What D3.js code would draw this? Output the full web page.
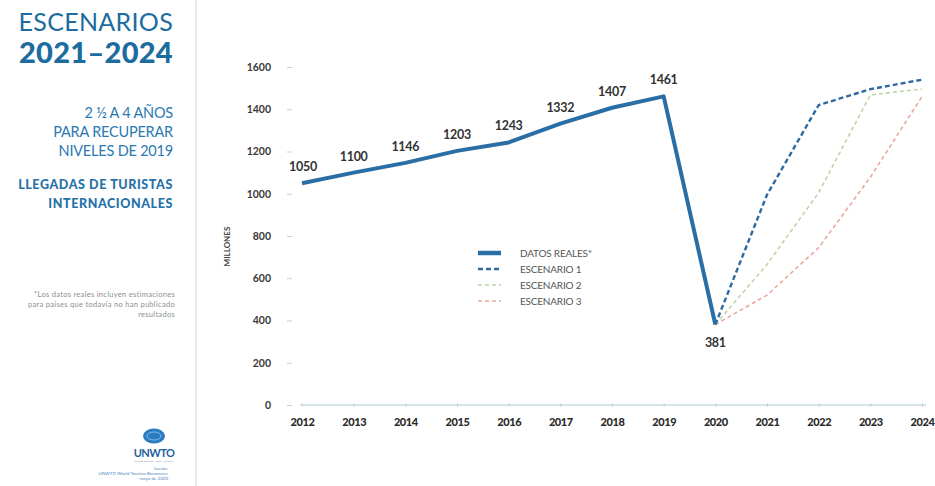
<!DOCTYPE html>
<html>
<head>
<meta charset="utf-8">
<script src="https://cdn.jsdelivr.net/npm/d3@7"></script>
<style>
  html, body { margin: 0; padding: 0; background: #fff; }
  svg { display: block; font-family: Lato, "Open Sans", sans-serif; }
</style>
</head>
<body>
<svg id="chart" width="935" height="486"></svg>
<script>
// ─── Data ────────────────────────────────────────────────────────────────────

const years      = [2012, 2013, 2014, 2015, 2016, 2017, 2018, 2019, 2020, 2021, 2022, 2023, 2024];
const realYears  = [2012, 2013, 2014, 2015, 2016, 2017, 2018, 2019, 2020];
const realValues = [1050, 1100, 1146, 1203, 1243, 1332, 1407, 1461, 381];

const scenYears  = [2020, 2021, 2022, 2023, 2024];
const scenario1  = [381, 995, 1420, 1495, 1540];
const scenario2  = [381, 665, 1005, 1468, 1496];
const scenario3  = [381, 520, 745, 1078, 1460];

const yTicks     = [0, 200, 400, 600, 800, 1000, 1200, 1400, 1600];

const legendLabels = ['DATOS REALES*', 'ESCENARIO 1', 'ESCENARIO 2', 'ESCENARIO 3'];

// ─── Styles ──────────────────────────────────────────────────────────────────

const BLUE  = '#2a6ea6';
const TITLE = '#1c6c9f';
const series = [
  { name: legendLabels[0], x: realYears, y: realValues, color: BLUE,      width: 4,   dash: null },
  { name: legendLabels[1], x: scenYears, y: scenario1,  color: '#2f69a0', width: 2.4, dash: '5,3' },
  { name: legendLabels[2], x: scenYears, y: scenario2,  color: '#bcd6a8', width: 1.6, dash: '4,3' },
  { name: legendLabels[3], x: scenYears, y: scenario3,  color: '#e9a79d', width: 1.6, dash: '4,3' },
];

const svg = d3.select('#chart');

// ─── Left panel ──────────────────────────────────────────────────────────────

svg.append('line')
  .attr('x1', 196).attr('x2', 196).attr('y1', 0).attr('y2', 486)
  .attr('stroke', '#e3ecef').attr('stroke-width', 2);

const panel = svg.append('g').attr('text-anchor', 'end');

panel.append('text').attr('x', 173).attr('y', 31)
  .attr('font-size', 25).attr('font-weight', 400).attr('fill', TITLE)
  .attr('letter-spacing', 0.3)
  .text('ESCENARIOS');
panel.append('text').attr('x', 173).attr('y', 63)
  .attr('font-size', 29).attr('font-weight', 900).attr('fill', TITLE)
  .attr('letter-spacing', 0.3)
  .text('2021–2024');

[['2 ½ A 4 AÑOS', 118], ['PARA RECUPERAR', 137], ['NIVELES DE 2019', 156]].forEach(([t, y]) => {
  panel.append('text').attr('x', 173).attr('y', y)
    .attr('font-size', 14.5).attr('fill', '#2b79b0').attr('letter-spacing', -0.2)
    .text(t);
});

[['LLEGADAS DE TURISTAS', 189], ['INTERNACIONALES', 208]].forEach(([t, y]) => {
  panel.append('text').attr('x', 173).attr('y', y)
    .attr('font-size', 12.5).attr('font-weight', 900).attr('fill', '#2471a8')
    .attr('letter-spacing', 0.6)
    .text(t);
});

[['*Los datos reales incluyen estimaciones', 297], ['para países que todavía no han publicado', 307], ['resultados', 317]].forEach(([t, y]) => {
  panel.append('text').attr('x', 175).attr('y', y)
    .attr('font-size', 7.5).attr('fill', '#8a8f93').attr('letter-spacing', 0.3)
    .text(t);
});

// UNWTO logo
const logo = svg.append('g').attr('transform', 'translate(154,436)');
logo.append('ellipse').attr('rx', 11).attr('ry', 7.5).attr('fill', '#2a7cc2');
logo.append('ellipse').attr('rx', 7).attr('ry', 4).attr('fill', 'none')
  .attr('stroke', '#9cc8ec').attr('stroke-width', 0.8);
logo.append('text').attr('y', 21).attr('text-anchor', 'middle')
  .attr('font-size', 11).attr('font-weight', 700).attr('fill', '#1e5fa0')
  .attr('letter-spacing', -0.6).text('UNWTO');
logo.append('text').attr('y', 26).attr('text-anchor', 'middle')
  .attr('font-size', 2.5).attr('fill', '#7a8fa5').text('WORLD TOURISM ORGANIZATION');
[['fuente:', 470], ['UNWTO World Tourism Barometer', 475], ['mayo de 2020', 480]].forEach(([t, y]) => {
  svg.append('text').attr('x', 168).attr('y', y).attr('text-anchor', 'end')
    .attr('font-size', 4.5).attr('fill', '#4f86c0').text(t);
});

// ─── Scales & axes ───────────────────────────────────────────────────────────

const x = d3.scalePoint().domain(years).range([302, 922]);
const y = d3.scaleLinear().domain([0, 1600]).range([405, 67]);

const yAxis = svg.append('g').attr('transform', 'translate(292,0)')
  .call(d3.axisLeft(y).tickValues(yTicks).tickFormat(d3.format('d')).tickSize(5).tickPadding(16));
yAxis.select('.domain').remove();
yAxis.selectAll('line').attr('stroke', '#c9cfd2');
yAxis.selectAll('text')
  .attr('font-family', 'Lato, sans-serif').attr('font-size', 10.5).attr('font-weight', 700)
  .attr('fill', '#3a3a3a');

const xAxis = svg.append('g').attr('transform', `translate(0,${y(0)})`)
  .call(d3.axisBottom(x).tickValues(years).tickSize(3).tickSizeOuter(0).tickPadding(10));
xAxis.select('.domain').attr('stroke', '#c7dde3').attr('stroke-width', 1.5)
  .attr('d', `M${x(2012) - 2},0H${x(2024) + 4}`);
xAxis.selectAll('.tick line').attr('stroke', '#b9c9cc').attr('transform', 'translate(0,-1.5)');
xAxis.selectAll('text')
  .attr('font-family', 'Lato, sans-serif').attr('font-size', 11).attr('font-weight', 900)
  .attr('fill', '#2a2a2a').attr('letter-spacing', -0.4);

svg.append('text')
  .attr('transform', `translate(230,${y(750)}) rotate(-90)`)
  .attr('text-anchor', 'middle')
  .attr('font-size', 8).attr('font-weight', 700).attr('fill', '#444')
  .text('MILLONES');

// ─── Lines ───────────────────────────────────────────────────────────────────

const line = d3.line().x(d => x(d[0])).y(d => y(d[1]));

series.slice().reverse().forEach(s => {
  svg.append('path')
    .datum(d3.zip(s.x, s.y))
    .attr('d', line)
    .attr('fill', 'none')
    .attr('stroke', s.color)
    .attr('stroke-width', s.width)
    .attr('stroke-linejoin', 'round')
    .attr('stroke-dasharray', s.dash);
});

// Data labels on real values
svg.append('g').selectAll('text')
  .data(d3.zip(realYears, realValues))
  .join('text')
  .attr('x', d => x(d[0]) + (d[0] === 2012 ? 1 : 0))
  .attr('y', d => d[0] === 2020 ? y(d[1]) + 22 : y(d[1]) - 12)
  .attr('text-anchor', 'middle')
  .attr('font-size', 12.5).attr('font-weight', 700).attr('fill', '#333')
  .attr('letter-spacing', -0.3)
  .text(d => d[1]);

// ─── Legend ──────────────────────────────────────────────────────────────────

const legend = svg.append('g').attr('transform', 'translate(478,253)');
series.forEach((s, i) => {
  const row = legend.append('g').attr('transform', `translate(0,${i * 16})`);
  row.append('line').attr('x1', 0).attr('x2', 23)
    .attr('stroke', s.color).attr('stroke-width', i === 0 ? 4.5 : s.width)
    .attr('stroke-dasharray', s.dash);
  row.append('text').attr('x', 42).attr('y', 4)
    .attr('font-size', 10).attr('fill', '#555').attr('letter-spacing', -0.2)
    .text(s.name);
});
</script>
</body>
</html>
